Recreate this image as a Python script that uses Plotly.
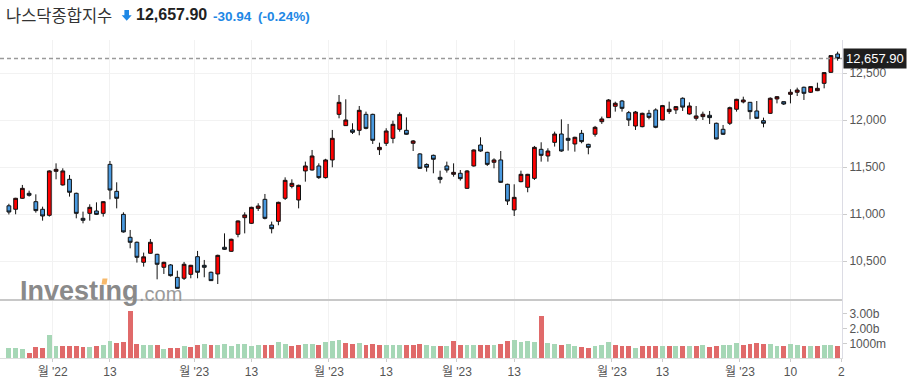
import plotly.graph_objects as go

# ---------------- data ----------------
dates = (
    ["2022-11-21", "2022-11-22", "2022-11-23", "2022-11-25", "2022-11-28", "2022-11-29", "2022-11-30"]
    + ["2022-12-%02d" % d for d in [1, 2, 5, 6, 7, 8, 9, 12, 13, 14, 15, 16, 19, 20, 21, 22, 23, 27, 28, 29, 30]]
    + ["2023-01-%02d" % d for d in [3, 4, 5, 6, 9, 10, 11, 12, 13, 17, 18, 19, 20, 23, 24, 25, 26, 27, 30, 31]]
    + ["2023-02-%02d" % d for d in [1, 2, 3, 6, 7, 8, 9, 10, 13, 14, 15, 16, 17, 21, 22, 23, 24, 27, 28]]
    + ["2023-03-%02d" % d for d in [1, 2, 3, 6, 7, 8, 9, 10, 13, 14, 15, 16, 17, 20, 21, 22, 23, 24, 27, 28, 29, 30, 31]]
    + ["2023-04-%02d" % d for d in [3, 4, 5, 6, 10, 11, 12, 13, 14, 17, 18, 19, 20, 21, 24, 25, 26, 27, 28]]
    + ["2023-05-%02d" % d for d in [1, 2, 3, 4, 5, 8, 9, 10, 11, 12, 15, 16, 17, 18, 19]]
)

open_ = [11090, 11053, 11170, 11223, 11134, 11053, 10989, 11457, 11312, 11372,
         11223, 10957, 11010, 11035, 11010, 11531, 11244, 10999, 10755, 10702,
         10489, 10585, 10574, 10436, 10461, 10329, 10319, 10361, 10549, 10457,
         10383, 10365, 10649, 10606, 10787, 10964, 10904, 11063, 11159, 10886,
         10925, 11170, 11297, 11152, 11461, 11471, 11514, 11390, 11578, 12063,
         11943, 11897, 11893, 12063, 12063, 11687, 11755, 11808, 11904, 11893,
         11755, 11642, 11530, 11627, 11393, 11514, 11425, 11436, 11276, 11514,
         11737, 11659, 11553, 11578, 11319, 11046, 11347, 11287, 11382, 11691,
         11620, 11765, 11854, 11808, 11748, 11861, 11744, 11851, 11985, 12028,
         12149, 12205, 12081, 11939, 11932, 12074, 12110, 12003, 12092, 12110,
         12234, 12067, 12021, 12039, 12053, 11968, 11904, 11968, 12117, 12195,
         12191, 12099, 11996, 12074, 12227, 12198, 12276, 12298, 12351, 12298,
         12315, 12393, 12510, 12705]
high = [11112, 11175, 11312, 11251, 11212, 11081, 11468, 11542, 11489, 11418,
        11230, 11028, 11106, 11127, 11140, 11567, 11340, 11021, 10833, 10710,
        10592, 10737, 10580, 10495, 10470, 10400, 10493, 10462, 10610, 10514,
        10390, 10570, 10797, 10740, 10935, 11021, 11080, 11117, 11216, 10922,
        11134, 11393, 11372, 11315, 11560, 11684, 11542, 11590, 11897, 12269,
        12223, 11968, 12152, 12092, 12070, 11762, 11915, 11996, 12085, 12031,
        11790, 11650, 11542, 11635, 11464, 11560, 11542, 11471, 11471, 11690,
        11819, 11665, 11595, 11673, 11325, 11319, 11464, 11430, 11727, 11766,
        11702, 11879, 12010, 11961, 11825, 11897, 11750, 11940, 12039, 12225,
        12198, 12216, 12099, 12099, 12081, 12110, 12127, 12163, 12198, 12152,
        12244, 12191, 12152, 12092, 12099, 11975, 11950, 12145, 12228, 12251,
        12195, 12205, 12028, 12244, 12258, 12200, 12330, 12347, 12358, 12362,
        12400, 12510, 12690, 12730]
low = [10998, 11000, 11165, 11188, 11017, 10932, 10975, 11372, 11305, 11188,
       10957, 10904, 10932, 10992, 10975, 11159, 11063, 10805, 10638, 10486,
       10443, 10580, 10308, 10365, 10337, 10207, 10301, 10319, 10319, 10330,
       10290, 10258, 10620, 10600, 10755, 10797, 10897, 11035, 10946, 10797,
       10883, 11152, 11276, 11063, 11347, 11465, 11376, 11380, 11500, 12021,
       11940, 11854, 11840, 11904, 11748, 11631, 11727, 11755, 11879, 11845,
       11673, 11485, 11454, 11436, 11329, 11443, 11400, 11358, 11270, 11507,
       11665, 11514, 11489, 11333, 11099, 10982, 11340, 11234, 11365, 11560,
       11560, 11720, 11665, 11677, 11666, 11755, 11638, 11826, 11961, 12024,
       12092, 12092, 11939, 11897, 11925, 12010, 11915, 12000, 12067, 12067,
       12099, 12060, 11996, 12003, 11961, 11797, 11844, 11950, 12092, 12180,
       12010, 12017, 11925, 12067, 12180, 12163, 12180, 12258, 12216, 12290,
       12310, 12340, 12505, 12634]
close = [11024, 11170, 11276, 11202, 11039, 10982, 11461, 11478, 11461, 11234,
         11010, 10936, 11074, 10999, 11134, 11258, 11170, 10812, 10702, 10542,
         10547, 10702, 10468, 10489, 10347, 10212, 10468, 10457, 10383, 10436,
         10294, 10563, 10627, 10734, 10929, 10993, 11074, 11088, 10957, 10847,
         11127, 11361, 11329, 11308, 11514, 11620, 11390, 11578, 11808, 12191,
         12003, 11872, 12106, 11914, 11787, 11712, 11886, 11957, 12063, 11851,
         11780, 11489, 11500, 11585, 11372, 11471, 11446, 11379, 11461, 11684,
         11673, 11531, 11578, 11340, 11141, 11180, 11425, 11425, 11712, 11627,
         11673, 11854, 11673, 11787, 11819, 11773, 11712, 11925, 12014, 12216,
         12181, 12127, 12003, 12088, 12074, 12031, 11925, 12156, 12117, 12145,
         12140, 12152, 12046, 12064, 12028, 11801, 11851, 12134, 12223, 12216,
         12092, 12021, 11968, 12234, 12251, 12173, 12298, 12322, 12287, 12358,
         12340, 12507, 12688, 12657.90]
volume_b = [0.69, 0.69, 0.62, 0.35, 0.76, 0.69, 1.57, 0.82, 0.82, 0.82,
            0.82, 0.76, 0.76, 0.82, 0.89, 1.16, 1.02, 1.09, 3.20, 0.96,
            0.89, 0.89, 0.89, 0.59, 0.69, 0.69, 0.82, 0.76, 0.89, 0.96,
            0.89, 0.89, 0.96, 0.82, 0.96, 0.96, 0.82, 0.89, 0.89, 0.89,
            1.09, 0.96, 0.82, 0.89, 0.96, 0.96, 0.89, 1.09, 1.16, 1.23,
            1.02, 0.96, 1.02, 0.89, 0.96, 0.89, 0.89, 0.89, 0.89, 0.89,
            0.89, 0.96, 0.89, 0.82, 0.82, 0.82, 1.16, 0.89, 0.89, 0.89,
            0.89, 0.89, 0.89, 0.96, 1.16, 1.23, 1.09, 1.16, 1.09, 2.86,
            1.02, 0.96, 0.89, 0.96, 0.82, 0.76, 0.69, 0.82, 0.89, 1.09,
            0.89, 0.82, 0.82, 0.66, 0.82, 0.82, 0.82, 0.82, 0.82, 0.82,
            0.82, 0.82, 0.82, 0.89, 0.76, 0.82, 0.89, 0.89, 1.02, 0.89,
            0.96, 1.02, 0.96, 0.96, 0.82, 0.82, 0.96, 0.89, 0.82, 0.82,
            0.82, 0.89, 0.89, 0.82]

tick_dates = ["2022-12-01", "2022-12-13", "2023-01-03", "2023-01-13", "2023-02-01", "2023-02-13",
              "2023-03-01", "2023-03-13", "2023-04-03", "2023-04-13", "2023-05-01", "2023-05-10"]
tick_labels = ["월 '22", "13", "월 '23", "13", "월 '23", "13", "월 '23", "13", "월 '23", "13", "월 '23", "10"]

price_ticks = [10500, 11000, 11500, 12000, 12500]
vol_ticks = [1e9, 2e9, 3e9]
vol_tick_labels = ["1000m", "2.00b", "3.00b"]

title_name = "나스닥종합지수"
last_price = close[-1]
change = "-30.94"
change_pct = "(-0.24%)"

# ---------------- figure ----------------
W, H = 908, 389
ML, MR, MT, MB = 0, 66, 40, 31
PW, PH = W - ML - MR, H - MT - MB
vol_dom = 58 / PH

xs = list(range(len(dates)))
volume = [v * 1e9 for v in volume_b]
vol_colors = ["#a6d7b6" if (i == 0 or close[i] >= close[i - 1]) else "#e06a6a" for i in range(len(close))]

tickpos = []
for d, lab in zip(tick_dates, tick_labels):
    i = dates.index(d)
    tickpos.append(i - 0.5 if "월" in lab else i)
# last (clipped) label in the reference
tickpos.append(len(dates) - 0.45)
tick_text = tick_labels + ["2"]

xrange_ = [-1.32, len(dates) - 0.35]

fig = go.Figure()
fig.add_trace(go.Candlestick(
    x=xs, open=open_, high=high, low=low, close=close,
    increasing=dict(fillcolor="#ff0000", line=dict(color="#111111", width=1)),
    decreasing=dict(fillcolor="#4a9ae0", line=dict(color="#111111", width=1)),
    whiskerwidth=0, xaxis="x", yaxis="y", showlegend=False, hoverinfo="skip",
))
fig.add_trace(go.Bar(
    x=xs, y=volume, marker=dict(color=vol_colors, line=dict(width=0)),
    width=0.72, xaxis="x2", yaxis="y2", showlegend=False, hoverinfo="skip",
))

tickfont = dict(family="Liberation Sans, Noto Sans CJK KR, sans-serif", size=12, color="#555555")
grid = "#f2f2f2"

fig.update_layout(
    width=W, height=H, autosize=False,
    margin=dict(l=ML, r=MR, t=MT, b=MB, pad=0),
    paper_bgcolor="white", plot_bgcolor="white",
    boxgap=0.2,
    bargap=0,
    xaxis=dict(domain=[0, 1], anchor="y", range=xrange_, tickvals=tickpos, ticktext=tick_text,
               showticklabels=False, showgrid=True, gridcolor=grid, zeroline=False,
               rangeslider=dict(visible=False), ticks=""),
    yaxis=dict(domain=[vol_dom, 1], anchor="x", side="right", range=[10088, 12854],
               tickvals=price_ticks, tickformat=",", showgrid=True, gridcolor=grid,
               zeroline=False, ticks="outside", ticklen=4, tickcolor="#cccccc",
               tickfont=tickfont, showline=True, linecolor="#dcdce4", linewidth=1),
    xaxis2=dict(domain=[0, 1], anchor="y2", matches="x", range=xrange_, tickvals=tickpos,
                ticktext=tick_text, showgrid=True, gridcolor=grid, zeroline=False,
                ticks="outside", ticklen=3, tickcolor="#cccccc", tickfont=tickfont,
                showline=True, linecolor="#dddddd", linewidth=1),
    yaxis2=dict(domain=[0, vol_dom], anchor="x2", side="right", range=[0, 3.95e9],
                tickvals=vol_ticks, ticktext=vol_tick_labels, showgrid=False, zeroline=False,
                ticks="outside", ticklen=4, tickcolor="#cccccc", tickfont=tickfont,
                showline=True, linecolor="#dcdce4", linewidth=1),
)


def px_x(px):
    return (px - ML) / PW


def px_y(py):
    return (H - MB - py) / PH


shapes = [
    # last price dashed line
    dict(type="line", xref="paper", yref="y", x0=0, x1=1, y0=last_price, y1=last_price,
         line=dict(color="#9a9a9a", width=1.5, dash="4px,3px"), layer="above"),
    # pane separator
    dict(type="line", xref="paper", yref="paper", x0=0, x1=1, y0=vol_dom, y1=vol_dom,
         line=dict(color="#c8c8c8", width=2), layer="above"),
]
# blue down arrow in the header
ax0, ax1, ay0, ay1 = 121.7, 131.7, 10.0, 20.8
mid = (ax0 + ax1) / 2
path = "M {} {} L {} {} L {} {} L {} {} L {} {} L {} {} L {} {} Z".format(
    px_x(mid - 2.3), px_y(ay0), px_x(mid + 2.3), px_y(ay0), px_x(mid + 2.3), px_y(15.2),
    px_x(ax1), px_y(15.2), px_x(mid), px_y(ay1), px_x(ax0), px_y(15.2), px_x(mid - 2.3), px_y(15.2))
shapes.append(dict(type="path", xref="paper", yref="paper", path=path,
                   fillcolor="#1e88e5", line=dict(width=0)))
# orange dot of the "i" in the watermark
shapes.append(dict(type="path", xref="paper", yref="paper",
                   path="M {} {} L {} {} L {} {} L {} {} Z".format(
                       px_x(102.5), px_y(278.5), px_x(107.5), px_y(278.5),
                       px_x(106.5), px_y(284.5), px_x(101.5), px_y(284.5)),
                   fillcolor="#f7b96b", line=dict(width=0)))
fig.update_layout(shapes=shapes)

ann = [
    dict(text=title_name, xref="paper", yref="paper", x=px_x(4), y=px_y(15), xanchor="left",
         yanchor="middle", showarrow=False,
         font=dict(family="Noto Sans CJK KR, sans-serif", size=16.5, color="#333333")),
    dict(text="<b>{:,.2f}</b>".format(last_price), xref="paper", yref="paper", x=px_x(134),
         y=px_y(15), xanchor="left", yanchor="middle", showarrow=False,
         font=dict(family="Liberation Sans, Arial, sans-serif", size=16, color="#222222")),
    dict(text="<b>" + change + "</b>", xref="paper", yref="paper", x=px_x(211), y=px_y(16),
         xanchor="left", yanchor="middle", showarrow=False,
         font=dict(family="Liberation Sans, Arial, sans-serif", size=13.5, color="#1e88e5")),
    dict(text="<b>" + change_pct + "</b>", xref="paper", yref="paper", x=px_x(256), y=px_y(16),
         xanchor="left", yanchor="middle", showarrow=False,
         font=dict(family="Liberation Sans, Arial, sans-serif", size=13.5, color="#1e88e5")),
    dict(text="{:,.2f}".format(last_price), xref="paper", yref="y", x=1, y=last_price,
         xanchor="left", yanchor="middle", showarrow=False, bgcolor="#1e1e1e", borderpad=2,
         xshift=1, font=dict(family="Liberation Sans, Arial, sans-serif", size=13, color="white")),
    # watermark
    dict(text="<b>Investıng</b>", xref="paper", yref="paper", x=px_x(18), y=px_y(291),
         xanchor="left", yanchor="middle", showarrow=False,
         font=dict(family="Liberation Sans, Arial, sans-serif", size=27, color="#8a8a8a")),
    dict(text=".com", xref="paper", yref="paper", x=px_x(137), y=px_y(294),
         xanchor="left", yanchor="middle", showarrow=False,
         font=dict(family="Liberation Sans, Arial, sans-serif", size=20, color="#9a9a9a")),
]
fig.update_layout(annotations=ann)

fig.write_html("out.html", config={"displayModeBar": False},
               post_script="document.body.style.margin='0px';document.body.style.padding='0px';")
